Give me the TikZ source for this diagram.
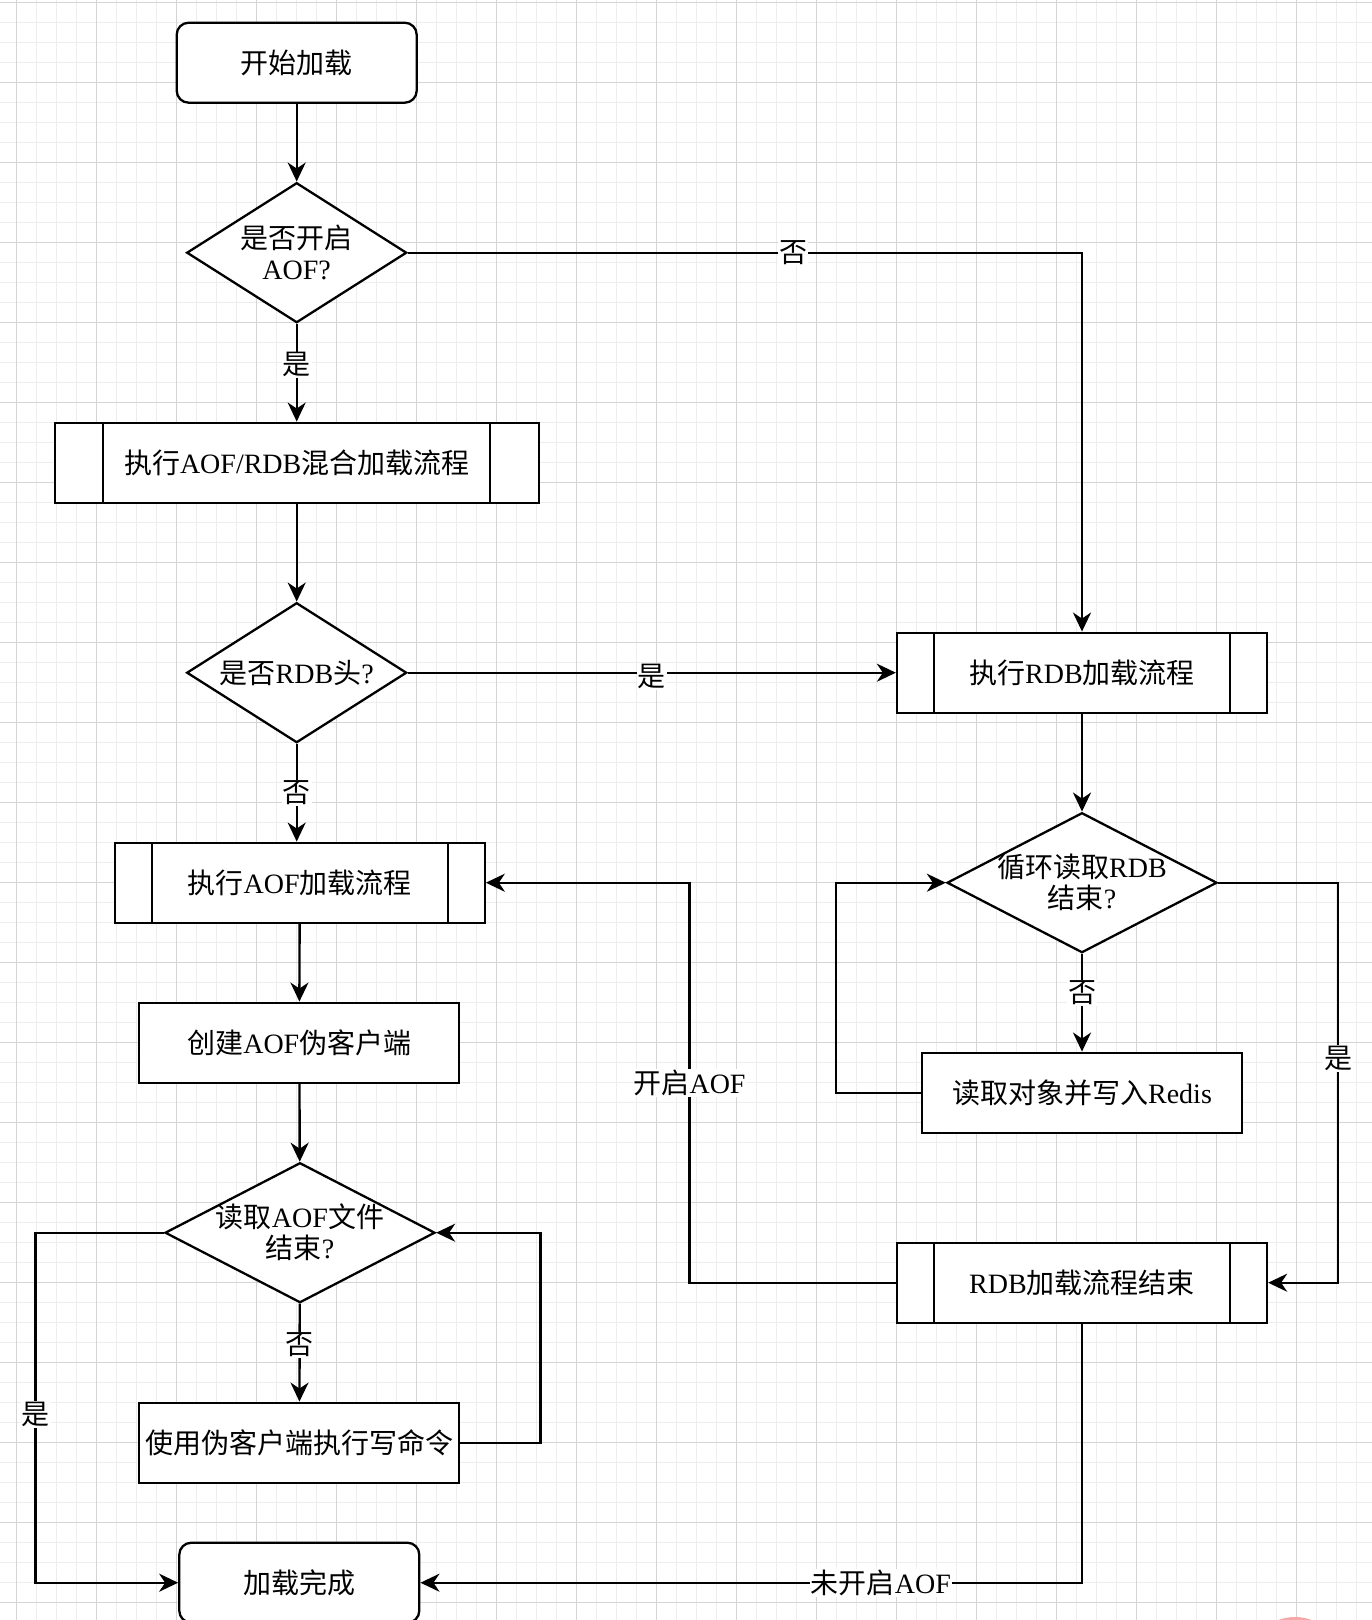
\documentclass[tikz,border=0pt]{standalone}
\usepackage{fontspec}
\usepackage{xcolor}
\usepackage{tikz}
\usetikzlibrary{positioning, arrows.meta, shapes.geometric, calc}
\setmainfont{Liberation Serif}
\newfontfamily\cjk{Noto Sans CJK SC}
\definecolor{gridmajor}{HTML}{D4D4D4}
\definecolor{gridminor}{HTML}{EDEDED}
\definecolor{dotpink}{HTML}{F7A8A8}

\tikzset{
    base/.style={draw, line width=2.3pt, fill=white, inner sep=0pt, align=center,
                 font=\fontsize{28}{31}\selectfont},
    terminal/.style={base, rounded corners=12pt, minimum width=240pt, minimum height=80pt},
    procbox/.style={base, minimum height=80pt},
    subproc/.style={procbox, path picture={
        \draw[line width=2.3pt]
          ($(path picture bounding box.north west)!.1!(path picture bounding box.north east)$) --
          ($(path picture bounding box.south west)!.1!(path picture bounding box.south east)$)
          ($(path picture bounding box.north east)!.1!(path picture bounding box.north west)$) --
          ($(path picture bounding box.south east)!.1!(path picture bounding box.south west)$);}},
    decision/.style={base, diamond, minimum height=140pt},
    dtext/.style={align=center, inner sep=0pt, font=\fontsize{28}{31}\selectfont},
    flow/.style={line width=2.4pt, -{Stealth[length=19pt, width=18pt, inset=6pt]}},
    lbl/.style={fill=white, inner sep=1pt, font=\fontsize{28}{31}\selectfont}
}

\begin{document}
\begin{tikzpicture}[x=1pt, y=-1pt]
    \useasboundingbox (0,0) rectangle (1372,1620);
    \fill[white] (0,0) rectangle (1372,1620);
    \foreach \k in {0,...,69} \draw[gridminor, line width=1pt] (\k*20-3.3,0) -- (\k*20-3.3,1620);
    \foreach \k in {0,...,81} \draw[gridminor, line width=1pt] (0,\k*20+2.7) -- (1372,\k*20+2.7);
    \foreach \k in {0,...,17} \draw[gridmajor, line width=1pt] (\k*80+16.7,0) -- (\k*80+16.7,1620);
    \foreach \k in {0,...,20} \draw[gridmajor, line width=1pt] (0,\k*80+2.7) -- (1372,\k*80+2.7);
    \fill[dotpink] (1295,1665) circle (48pt);

    \node[terminal] (start) at (296.7,62.7) {{\cjk 开始加载}};
    \node[decision, minimum width=220pt,
          label={[dtext]center:{\cjk 是否开启}\\AOF?}] (aofon) at (296.7,252.7) {};
    \node[subproc, minimum width=484pt] (mixload) at (296.7,462.7) {{\cjk 执行}AOF/RDB{\cjk 混合加载流程}};
    \node[decision, minimum width=220pt,
          label={[dtext]center:{\cjk 是否}RDB{\cjk 头}?}] (rdbhead) at (296.7,672.7) {};
    \node[subproc, minimum width=370pt] (rdbload) at (1082,672.7) {{\cjk 执行}RDB{\cjk 加载流程}};
    \node[decision, minimum width=270pt,
          label={[dtext]center:{\cjk 循环读取}RDB\\{\cjk 结束}?}] (rdbloop) at (1082,882.7) {};
    \node[procbox, minimum width=320pt] (rdbread) at (1082,1092.7) {{\cjk 读取对象并写入}Redis};
    \node[subproc, minimum width=370pt] (rdbend) at (1082,1282.7) {RDB{\cjk 加载流程结束}};
    \node[subproc, minimum width=370pt] (aofload) at (299.7,882.7) {{\cjk 执行}AOF{\cjk 加载流程}};
    \node[procbox, minimum width=320pt] (fakecli) at (299.3,1042.7) {{\cjk 创建}AOF{\cjk 伪客户端}};
    \node[decision, minimum width=270pt,
          label={[dtext]center:{\cjk 读取}AOF{\cjk 文件}\\{\cjk 结束}?}] (aofeof) at (300,1232.7) {};
    \node[procbox, minimum width=320pt] (runcmd) at (299.3,1442.7) {{\cjk 使用伪客户端执行写命令}};
    \node[terminal] (done) at (299.3,1582.7) {{\cjk 加载完成}};

    \draw[flow] (start) -- (aofon);
    \draw[flow] (aofon) -- node[lbl, pos=.42] {\cjk 是} (mixload);
    \draw[flow] (aofon.east) -| node[lbl, pos=.286] {\cjk 否} (rdbload.north);
    \draw[flow] (mixload) -- (rdbhead);
    \draw[flow] (rdbhead.east) -- node[lbl, yshift=-4pt] {\cjk 是} (rdbload.west);
    \draw[flow] (rdbhead.south) -- node[lbl] {\cjk 否} (rdbhead.south |- aofload.north);
    \draw[flow] (rdbload) -- (rdbloop);
    \draw[flow] (rdbloop) -- node[lbl, pos=.4] {\cjk 否} (rdbread);
    \draw[flow] (rdbread.west) -- ++(-85,0) |- (rdbloop.west);
    \draw[flow] (rdbloop.east) -- ++(120,0) |- node[lbl, pos=.22] {\cjk 是} (rdbend.east);
    \draw[flow] (rdbend.west) -- ++(-206.3,0) |- node[lbl, pos=.25] {{\cjk 开启}AOF} (aofload.east);
    \draw[flow] (rdbend.south) |- node[lbl, pos=.652] {{\cjk 未开启}AOF} (done.east);
    \draw[flow] (aofload) -- (fakecli);
    \draw[flow] (fakecli) -- (aofeof);
    \draw[flow] (aofeof) -- node[lbl, pos=.42] {\cjk 否} (runcmd);
    \draw[flow] (runcmd.east) -- ++(80,0) |- (aofeof.east);
    \draw[flow] (aofeof.west) -- ++(-128.3,0) |- node[lbl, pos=.26] {\cjk 是} (done.west);
\end{tikzpicture}
\end{document}
